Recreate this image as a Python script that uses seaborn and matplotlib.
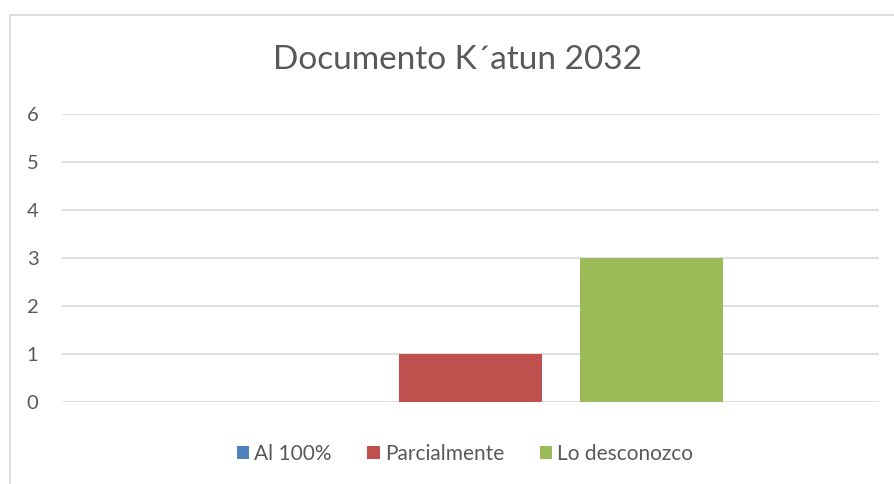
import matplotlib
matplotlib.use("Agg")
import matplotlib.pyplot as plt
from matplotlib.patches import Rectangle
import seaborn as sns
import pandas as pd

title = "Documento K´atun 2032"
series = ["Al 100%", "Parcialmente", "Lo desconozco"]
values = [0, 1, 3]
colors = ["#4F81BD", "#C0504D", "#9BBB59"]
yticks = [0, 1, 2, 3, 4, 5, 6]

df = pd.DataFrame({"grupo": [""] * len(series), "respuesta": series, "valor": values})

sns.set_theme(style="white")
plt.rcParams["font.family"] = ["Lato", "DejaVu Sans"]

W, H = 894, 484
fig = plt.figure(figsize=(W / 100, H / 100), dpi=100)
ax = fig.add_axes([62 / W, 1 - 402 / H, (879 - 62) / W, (402 - 114) / H])

sns.barplot(data=df, x="grupo", y="valor", hue="respuesta", hue_order=series,
            palette=colors, width=0.665, gap=0.21, ax=ax, legend=False,
            saturation=1, linewidth=0)

ax.set_xlim(-0.5, 0.5)
ax.set_ylim(0, 6)
ax.set_yticks(yticks)
ax.set_yticklabels([str(t) for t in yticks])
ax.set_xticks([])
ax.set_xlabel("")
ax.set_ylabel("")
ax.grid(axis="y", color="#D9D9D9", linewidth=1.2)
ax.set_axisbelow(True)
for s in ax.spines.values():
    s.set_visible(False)
ax.tick_params(axis="y", length=0, pad=17, labelsize=14.5, labelcolor="#595959")

# chart-area frame
fig.patches.append(Rectangle((10 / W, -0.1), 1.2, 1 - 15 / H + 0.1,
                             transform=fig.transFigure, fill=False,
                             edgecolor="#D9D9D9", linewidth=1.2))

fig.text(458 / W, 1 - 60 / H, title, ha="center", va="center",
         fontsize=24, color="#595959")

handles = [Rectangle((0, 0), 1, 1, facecolor=c, edgecolor="none") for c in colors]
fig.legend(handles, series, loc="center", bbox_to_anchor=(465 / W, 1 - 454 / H),
           ncol=3, frameon=False, fontsize=15, labelcolor="#595959",
           handlelength=0.6, handleheight=0.6, handletextpad=0.25,
           columnspacing=1.7)

fig.savefig("out.png", dpi=100)
